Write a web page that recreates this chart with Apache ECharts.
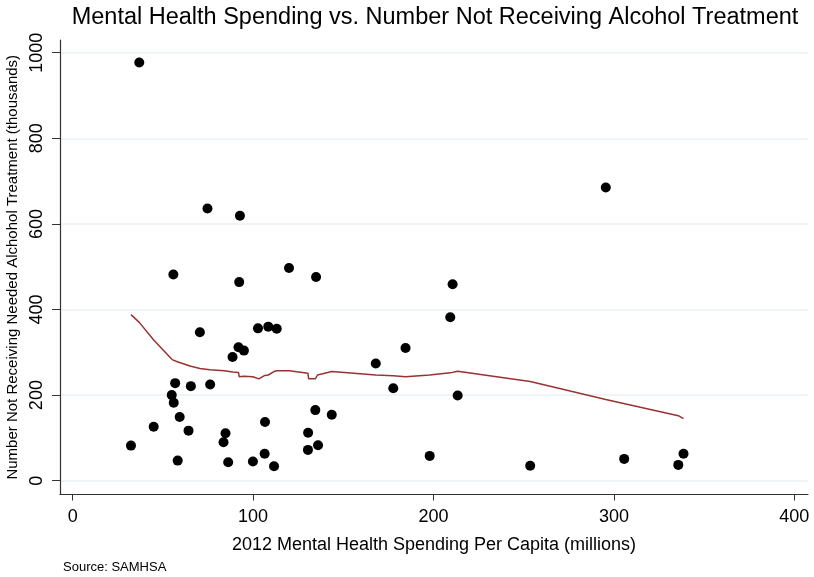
<!DOCTYPE html>
<html>
<head>
<meta charset="utf-8">
<script src="https://cdn.jsdelivr.net/npm/echarts@6/dist/echarts.min.js"></script>
<style>html,body{margin:0;padding:0;background:#fff}#c{width:814px;height:577px}</style>
</head>
<body>
<div id="c"></div>
<script>
// Spending per capita (x) vs number not receiving needed alcohol treatment, thousands (y)
const spending = [36.9,74.7,92.7,55.8,92.3,119.9,70.5,102.7,108.4,113.1,91.9,94.9,88.6,56.8,65.5,76.2,54.9,56.0,59.3,44.9,64.2,32.3,84.7,83.6,106.6,58.2,86.2,99.9,106.4,111.6,130.5,130.4,134.9,210.6,209.3,184.5,168.0,177.7,213.4,134.5,143.6,136.0,197.9,295.5,253.6,305.7,338.6,335.7];
const notTreated = [977,636,619,482,464,497,347,356,360,355,312,304,289,228,221,225,200,182,149,126,117,82,111,90,137,47,43,45,63,34,112,72,476,459,382,310,274,216,199,165,154,83,58,685,35,51,63,37];
// lowess smoother
const lowessX = [32.3,36.9,44.9,55.1,58.0,65.0,70.5,76.0,84.0,88.8,91.9,92.3,94.9,99.9,103.2,106.5,108.4,111.6,113.1,120.0,130.4,130.8,134.5,135.7,143.6,168.0,177.7,184.5,197.9,209.3,213.4,253.6,295.5,335.7,338.6];
const lowessY = [388,370,329,283,278,268,262,259,257,254,253,243,244,243,238,246,247,255,257,257,251,238,238,247,255,247,245,243,247,252,256,232,190,152,145];
const xTicks = [0,100,200,300,400];
const yTicks = [0,200,400,600,800,1000];

const FONT = '"Liberation Sans", Arial, Helvetica, sans-serif';
const chart = echarts.init(document.getElementById('c'));
chart.setOption({
  animation: false,
  backgroundColor: '#ffffff',
  grid: { left: 60, right: 6, top: 40, bottom: 82.5, containLabel: false, outerBoundsMode: 'none' },
  xAxis: {
    type: 'value', min: -7.04, max: 407.6,
    name: '2012 Mental Health Spending Per Capita (millions)',
    nameLocation: 'middle', nameGap: 42,
    nameTextStyle: { fontFamily: FONT, fontSize: 18, color: '#000' },
    axisLine: { show: true, onZero: false, lineStyle: { color: '#333', width: 1.2 } },
    axisTick: { show: true, customValues: xTicks, length: 6, lineStyle: { color: '#333' } },
    axisLabel: { customValues: xTicks, fontFamily: FONT, fontSize: 18, color: '#000', margin: 14, formatter: v => String(v) },
    splitLine: { show: false }
  },
  yAxis: {
    type: 'value', min: -32.2, max: 1029.7,
    name: 'Number Not Receiving Needed Alchohol Treatment (thousands)',
    nameLocation: 'middle', nameGap: 38,
    nameTextStyle: { fontFamily: FONT, fontSize: 15, color: '#000' },
    axisLine: { show: true, onZero: false, lineStyle: { color: '#333', width: 1.2 } },
    axisTick: { show: true, customValues: yTicks, length: 8, lineStyle: { color: '#333' } },
    axisLabel: { customValues: yTicks, rotate: 90, fontFamily: FONT, fontSize: 18, color: '#000', margin: 14, formatter: v => String(v) },
    splitLine: { show: true, lineStyle: { color: '#eaf2f3', width: 1.5 } }
  },
  graphic: [
    { type: 'text', x: 435, y: 6, style: { text: 'Mental Health Spending vs. Number Not Receiving Alcohol Treatment', font: '23.5px ' + FONT, fill: '#000', textAlign: 'center' } },
    { type: 'text', left: 63, top: 561, style: { text: 'Source: SAMHSA', font: '13px ' + FONT, fill: '#000' } }
  ],
  series: [
    {
      type: 'scatter', symbol: 'circle', symbolSize: 10,
      itemStyle: { color: '#000', opacity: 1 },
      data: spending.map((v, i) => [v, notTreated[i]])
    },
    {
      type: 'line', showSymbol: false, symbol: 'none',
      lineStyle: { color: '#993333', width: 1.5 },
      data: lowessX.map((v, i) => [v, lowessY[i]])
    }
  ]
});
</script>
</body>
</html>
